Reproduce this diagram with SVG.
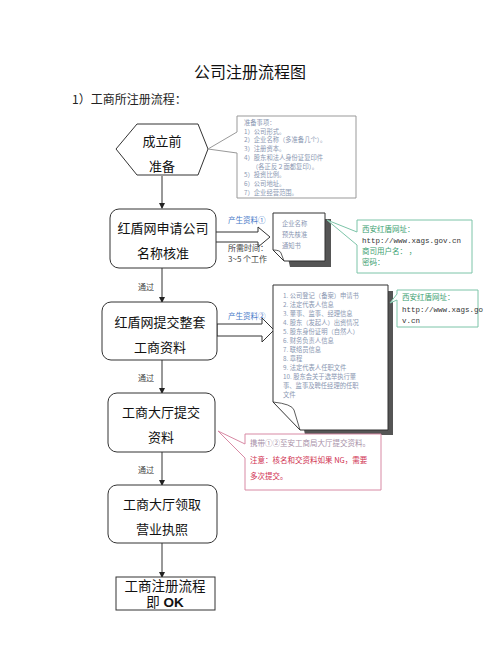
<svg xmlns="http://www.w3.org/2000/svg" width="500" height="658" viewBox="0 0 500 658">
<style>
.node{fill:#fff;stroke:#333;stroke-width:1}
.nt{font-family:"Noto Sans CJK SC","Liberation Sans",sans-serif;font-size:13px;fill:#111;text-anchor:middle}
.sm{font-family:"Noto Sans CJK SC","Liberation Serif",serif;font-size:6.3px;fill:#8a97b2}
.lbl{font-family:"Noto Sans CJK SC","Liberation Serif",serif;font-size:8px;fill:#444}
.blue{font-family:"Noto Sans CJK SC","Liberation Sans",sans-serif;font-size:7.5px;fill:#4a7ac8}
.grn{font-family:"Noto Sans CJK SC","Liberation Serif",serif;font-size:7.5px;fill:#3aa070}
.url{font-family:"Liberation Mono","Noto Sans CJK SC",monospace;font-size:7.5px;fill:#333}
.red{font-family:"Noto Sans CJK SC","Liberation Serif",serif;font-size:7.5px;fill:#d03050}
.conn{stroke:#333;stroke-width:1;fill:none}
.call{fill:#fff;stroke:#999;stroke-width:1}
.shadow{fill:#555}
.ok{font-family:"Liberation Sans","Noto Sans CJK SC",sans-serif;font-size:13.5px;fill:#111;text-anchor:middle}
</style>
<defs>
<marker id="ah" markerWidth="6" markerHeight="6" refX="5" refY="3" orient="auto" markerUnits="userSpaceOnUse">
<path d="M0,0 L6,3 L0,6 Z" fill="#222"/>
</marker>
</defs>
<rect width="500" height="658" fill="#fff"/>
<text x="250" y="78" font-family="'Noto Sans CJK SC',sans-serif" font-size="16" text-anchor="middle" fill="#111">公司注册流程图</text>
<text x="72" y="104" font-family="'Noto Sans CJK SC',serif" font-size="12" fill="#222">1）工商所注册流程：</text>

<g id="connectors">
<line class="conn" x1="162" y1="176" x2="162" y2="208" marker-end="url(#ah)"/>
<line class="conn" x1="162" y1="268" x2="162" y2="302" marker-end="url(#ah)"/>
<line class="conn" x1="162" y1="360" x2="162" y2="393" marker-end="url(#ah)"/>
<line class="conn" x1="162" y1="452" x2="162" y2="485" marker-end="url(#ah)"/>
<line class="conn" x1="162" y1="543" x2="162" y2="577" marker-end="url(#ah)"/>
<path d="M215,232 H258 V227 L270,237 L258,247 V242 H215 Z" fill="#fff" stroke="#333"/>
<path d="M217,324 H262 V318 L274,330 L262,342 V336 H217 Z" fill="#fff" stroke="#333"/>
<text class="lbl" x="138" y="290">通过</text>
<text class="lbl" x="138" y="381">通过</text>
<text class="lbl" x="138" y="473">通过</text>
<text class="blue" x="228" y="223">产生资料①</text>
<text class="blue" x="228" y="319">产生资料②</text>
<text class="lbl" x="228" y="251">所需时间：</text>
<text class="lbl" x="228" y="262">3~5 个工作</text>
</g>

<g id="n1">
<polygon class="node" points="116,149 137,124 198,124 208,149 198,175 137,175"/>
<text class="nt" x="162" y="146">成立前</text>
<text class="nt" x="162" y="171">准备</text>
</g>
<g id="c1">
<path class="call" d="M237,116 H356 V198 H237 V153 L208,149 L237,132 Z"/>
<g class="sm">
<text x="244" y="125">准备事项：</text>
<text x="244" y="133.7">1）公司形式。</text>
<text x="244" y="142.4">2）企业名称（多准备几个）。</text>
<text x="244" y="151.1">3）注册资本。</text>
<text x="244" y="159.8">4）股东和法人身份证复印件</text>
<text x="252" y="168.5">（各正反２面都复印）。</text>
<text x="244" y="177.2">5）投资比例。</text>
<text x="244" y="185.9">6）公司地址。</text>
<text x="244" y="194.6">7）企业经营范围。</text>
</g>
</g>

<g id="n2">
<rect class="node" x="110" y="209" width="106" height="59" rx="9"/>
<text class="nt" x="163" y="233">红盾网申请公司</text>
<text class="nt" x="163" y="258">名称核准</text>
</g>
<g id="d1">
<path class="shadow" d="M279,219 H331 V267 H290 Z"/>
<path fill="#fff" stroke="#333" d="M273,213 H325 V261 H284 L273,250 Z"/>
<path fill="none" stroke="#333" stroke-width="0.8" d="M273,250 Q280,250 281,253 L284,261"/>
<g class="sm">
<text x="282" y="226">企业名称</text>
<text x="282" y="237">预先核准</text>
<text x="282" y="248">通知书</text>
</g>
</g>
<g id="c2">
<path fill="#fff" stroke="#7cc4a8" d="M357,220 H472 V273 H357 V245 L327,220 L357,232 Z"/>
<text class="grn" x="362" y="232">西安红盾网址：</text>
<text class="url" x="362" y="243">http://www.xags.gov.cn</text>
<text class="grn" x="362" y="254">商司用户名：    ，</text>
<text class="grn" x="362" y="265">密码：</text>
</g>

<g id="n3">
<rect class="node" x="102" y="302" width="115" height="58" rx="9"/>
<text class="nt" x="160" y="327">红盾网提交整套</text>
<text class="nt" x="160" y="352">工商资料</text>
</g>
<g id="d2">
<path class="shadow" d="M279,291 H393 V435 H305 Z"/>
<path fill="#fff" stroke="#333" d="M273,285 H388 V430 H300 L273,402 Z"/>
<path fill="none" stroke="#333" stroke-width="0.8" d="M273,402 Q292,404 294,410 L300,430"/>
<g class="sm">
<text x="283" y="298">1. 公司登记（备案）申请书</text>
<text x="283" y="307">2. 法定代表人信息</text>
<text x="283" y="316">3. 董事、监事、经理信息</text>
<text x="283" y="325">4. 股东（发起人）出资情况</text>
<text x="283" y="334">5. 股东身份证明（自然人）</text>
<text x="283" y="343">6. 财务负责人信息</text>
<text x="283" y="352">7. 联络员信息</text>
<text x="283" y="361">8. 章程</text>
<text x="283" y="370">9. 法定代表人任职文件</text>
<text x="283" y="379">10. 股东会关于选举执行董</text>
<text x="283" y="388">事、监事及聘任经理的任职</text>
<text x="283" y="397">文件</text>
</g>
</g>
<g id="c3">
<path fill="#fff" stroke="#7cc4a8" d="M397,290 H478 V327 H397 V300 L390,303 L397,294 Z"/>
<text class="grn" x="402" y="300">西安红盾网址：</text>
<text class="url" x="402" y="312">http://www.xags.go</text>
<text class="url" x="402" y="323">v.cn</text>
</g>

<g id="n4">
<rect class="node" x="108" y="393" width="107" height="59" rx="9"/>
<text class="nt" x="161" y="417">工商大厅提交</text>
<text class="nt" x="161" y="442">资料</text>
</g>
<g id="c4">
<path fill="#fff" stroke="#d889a4" d="M245,434 H381 V490 H245 V458 L218,431 L245,444 Z"/>
<text class="red" x="250" y="446" style="fill:#a890a8">携带①②至安工商局大厅提交资料。</text>
<text class="red" x="250" y="463">注意：核名和交资料如果 NG，需要</text>
<text class="red" x="250" y="479">多次提交。</text>
</g>

<g id="n5">
<rect class="node" x="108" y="485" width="109" height="58" rx="9"/>
<text class="nt" x="162" y="509">工商大厅领取</text>
<text class="nt" x="162" y="534">营业执照</text>
</g>

<g id="n6">
<rect class="node" x="116" y="577" width="99" height="33"/>
<text class="ok" x="165" y="590.5">工商注册流程</text>
<text class="ok" x="165" y="606.5">即 <tspan font-weight="bold">OK</tspan></text>
</g>
</svg>
